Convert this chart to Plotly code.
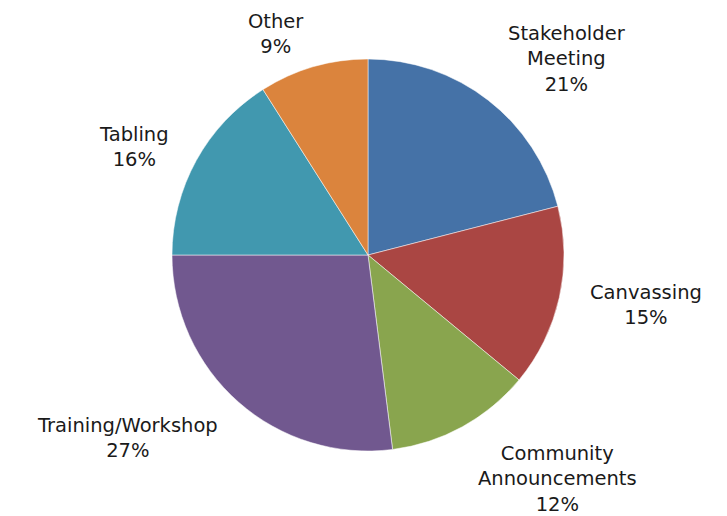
import math
import plotly.graph_objects as go

categories = ["Stakeholder<br>Meeting", "Canvassing", "Community<br>Announcements",
              "Training/Workshop", "Tabling", "Other"]
values = [21, 15, 12, 27, 16, 9]
colors = ["#4572A7", "#AA4643", "#89A54E", "#71588F", "#4198AF", "#DB843D"]

W, H = 727, 516
OFF = 8  # page body margin
cx, cy, R = 368 - OFF, 255 - OFF, 196
dom_x = [(cx - R) / W, (cx + R) / W]
dom_y = [(H - cy - R) / H, (H - cy + R) / H]

fig = go.Figure(go.Pie(
    labels=categories, values=values, sort=False, direction="clockwise",
    rotation=0, marker=dict(colors=colors, line=dict(color="white", width=0.5)),
    textinfo="none", hoverinfo="label+percent", showlegend=False,
    domain=dict(x=dom_x, y=dom_y),
))

total = sum(values)
cum = 0
font = dict(family="DejaVu Sans", size=19.5, color="#1a1a1a")
dist = R + 30
for lab, v in zip(categories, values):
    mid = 90 - (cum + v / 2) / total * 360
    cum += v
    a = math.radians(mid)
    px = cx + dist * math.cos(a)
    py = cy - dist * math.sin(a)
    s = math.sin(a)
    if s > 0.6:
        yanchor, ysh = "bottom", -21
    elif s < -0.6:
        yanchor, ysh = "top", 12
    else:
        yanchor, ysh = "middle", -1
    xanchor = "left" if math.cos(a) >= 0 else "right"
    fig.add_annotation(
        x=px / W, y=1 - py / H, xref="paper", yref="paper",
        text=f"{lab}<br>{round(v / total * 100)}%", showarrow=False,
        xanchor=xanchor, yanchor=yanchor, yshift=ysh, align="center", font=font,
        borderpad=0,
    )

fig.update_layout(
    width=W, height=H, margin=dict(l=0, r=0, t=0, b=0),
    paper_bgcolor="white", plot_bgcolor="white",
)
fig.write_html("out.html")
